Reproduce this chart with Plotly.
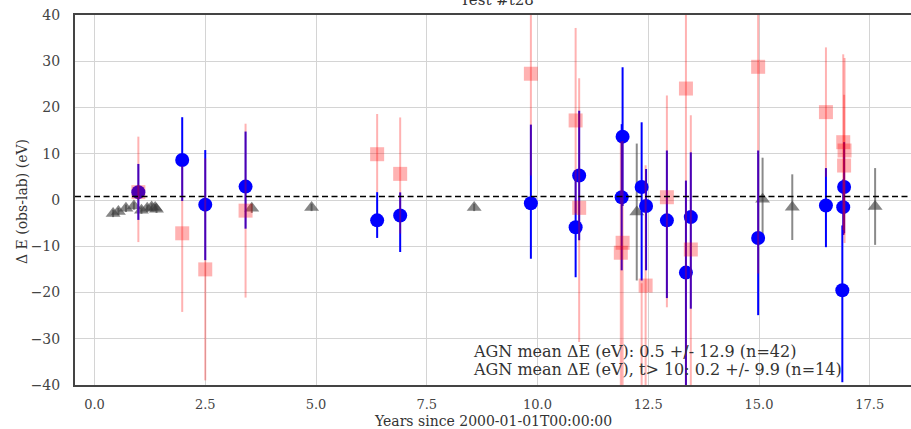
import plotly.graph_objects as go

# ---- data -------------------------------------------------------------
# Reference (gray triangles)
ref_t = [0.42, 0.54, 0.71, 0.89, 1.06, 1.19, 1.29, 1.37, 1.40, 3.55, 4.90,
         8.57, 12.24, 15.08, 15.75, 17.62]
ref_de = [-2.9, -2.5, -1.8, -1.3, -2.2, -1.8, -1.5, -1.6, -2.0, -1.8, -1.6,
          -1.6, -2.6, 0.15, -1.55, -1.4]
ref_err = [0.8, 0.8, 0.8, 0.8, 0.8, 0.8, 0.8, 0.8, 0.8, 1.0, 0.8,
           0.8, 14.8, 9.0, 7.1, 8.3]

# AGN line A (blue circles)
agn_t = [0.99, 1.98, 2.50, 3.41, 6.38, 6.90, 9.85, 10.86, 10.94, 11.92, 11.90,
         12.35, 12.45, 12.92, 13.35, 13.46, 14.98, 16.51, 16.92, 16.90, 16.88]
agn_de = [1.7, 8.65, -1.0, 2.9, -4.4, -3.35, -0.7, -5.9, 5.3, 13.7, 0.6,
          2.8, -1.3, -4.4, -15.7, -3.7, -8.2, -1.2, 2.8, -1.55, -19.5]
agn_up = [6.1, 9.25, 11.8, 11.9, 6.1, 5.0, 17.0, 12.3, 14.0, 15.0, 15.8,
          14.0, 8.0, 15.1, 19.9, 14.0, 18.9, 8.1, 9.7, 6.0, 14.0]
agn_dn = [6.0, 8.85, 12.0, 9.1, 3.8, 7.9, 12.0, 10.8, 14.0, 15.0, 15.8,
          20.2, 13.9, 16.8, 26.0, 19.8, 16.7, 9.0, 10.0, 6.0, 19.9]

# AGN line B (red squares)
agn2_t = [0.99, 1.98, 2.50, 3.41, 6.38, 6.90, 9.85, 10.86, 10.94, 11.92, 11.88,
          12.35, 12.44, 12.92, 13.35, 13.46, 14.98, 16.51, 16.90, 16.93, 16.92]
agn2_de = [1.7, -7.2, -15.0, -2.3, 9.9, 5.65, 27.3, 17.2, -1.7, -9.25, -11.4,
           -45.0, -18.5, 0.6, 24.1, -10.7, 28.8, 19.0, 12.5, 10.7, 7.45]
agn2_up = [12.0, 14.5, 24.0, 18.8, 8.7, 12.2, 22.0, 20.0, 28.0, 22.0, 24.0,
           27.0, 26.0, 22.0, 40.0, 29.0, 45.0, 14.0, 19.0, 20.0, 15.3]
agn2_dn = [10.8, 17.0, 24.0, 18.8, 8.2, 12.9, 22.0, 20.0, 29.0, 33.0, 31.0,
           10.0, 30.0, 23.8, 70.0, 30.0, 44.7, 14.0, 19.0, 20.0, 15.0]

mean_level = 0.75
title_text = "Test #t28"
stats_lines = [
    "AGN mean ΔE (eV): 0.5 +/- 12.9 (n=42)",
    "AGN mean ΔE (eV), t> 10: 0.2 +/- 9.9 (n=14)",
]

FONT = "DejaVu Serif"
W, H = 911, 429
ML, MR, MT, MB = 75, 0, 15, 44

fig = go.Figure()

fig.add_trace(go.Scatter(
    x=ref_t, y=ref_de, mode="markers",
    marker=dict(symbol="triangle-up", size=13, color="rgba(60,60,60,0.62)"),
    error_y=dict(type="data", array=ref_err, color="rgba(60,60,60,0.6)",
                 thickness=2, width=0),
    showlegend=False,
))

fig.add_trace(go.Scatter(
    x=agn_t, y=agn_de, mode="markers",
    marker=dict(symbol="circle", size=14, color="#0000ff"),
    error_y=dict(type="data", symmetric=False, array=agn_up, arrayminus=agn_dn,
                 color="#0000ff", thickness=2, width=0),
    showlegend=False,
))

fig.add_trace(go.Scatter(
    x=agn2_t, y=agn2_de, mode="markers",
    marker=dict(symbol="square", size=14, color="rgba(255,0,0,0.3)"),
    error_y=dict(type="data", symmetric=False, array=agn2_up, arrayminus=agn2_dn,
                 color="rgba(255,0,0,0.3)", thickness=2, width=0),
    showlegend=False,
))

# horizontal reference line at the overall offset
fig.add_shape(type="line", xref="paper", x0=0, x1=1, yref="y",
              y0=mean_level, y1=mean_level,
              line=dict(color="black", width=1.6, dash="6px,3.5px"))

pw = W - ML - MR
ph = H - MT - MB

# title, partly above the canvas
fig.add_annotation(text=title_text, xref="paper", yref="paper",
                   x=(497 - ML) / pw, y=1 + (MT - 11) / ph,
                   xanchor="center", yanchor="bottom", showarrow=False,
                   font=dict(family=FONT, size=15, color="#333333"))

# statistics text
for i, line in enumerate(stats_lines):
    fig.add_annotation(text=line, xref="paper", yref="paper",
                       x=(471 - ML) / pw, y=1 - (351 + 18 * i - MT) / ph,
                       xanchor="left", yanchor="middle", showarrow=False,
                       font=dict(family=FONT, size=16, color="#333333"))

# axis titles
fig.add_annotation(text="Years since 2000-01-01T00:00:00", xref="paper", yref="paper",
                   x=(493 - ML) / pw, y=1 - (421 - MT) / ph,
                   xanchor="center", yanchor="middle", showarrow=False,
                   font=dict(family=FONT, size=14, color="#333333"))
fig.add_annotation(text="Δ E (obs-lab) (eV)", xref="paper", yref="paper",
                   x=(22 - ML) / pw, y=1 - (202 - MT) / ph, textangle=-90,
                   xanchor="center", yanchor="middle", showarrow=False,
                   font=dict(family=FONT, size=14, color="#333333"))

fig.update_xaxes(range=[-0.44, 18.43], tick0=0, dtick=2.5, tickformat=".1f",
                 showgrid=True, gridcolor="#d4d4d4", gridwidth=1.2,
                 zeroline=False, showline=True, linecolor="#444444", linewidth=2,
                 mirror=True, ticks="", ticklabelstandoff=6,
                 tickfont=dict(family=FONT, size=13, color="#444444"))
fig.update_yaxes(range=[-40, 40], tick0=0, dtick=10,
                 showgrid=True, gridcolor="#d4d4d4", gridwidth=1.2,
                 zeroline=False, showline=True, linecolor="#444444", linewidth=2,
                 mirror=False, ticks="", ticklabelstandoff=10,
                 tickfont=dict(family=FONT, size=14, color="#444444"))

fig.update_layout(width=W, height=H, margin=dict(l=ML, r=MR, t=MT, b=MB),
                  font=dict(family=FONT, color="#333333"),
                  paper_bgcolor="white", plot_bgcolor="white",
                  showlegend=False)

fig.write_html("out.html")
